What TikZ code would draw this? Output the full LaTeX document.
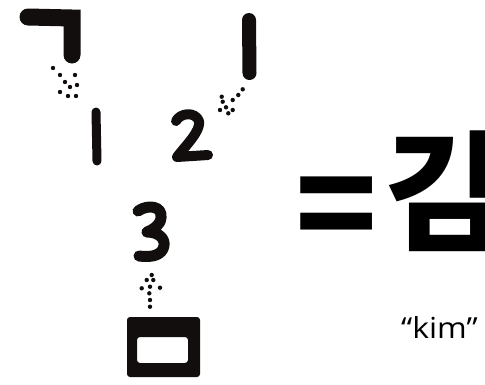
\documentclass[tikz,border=0pt]{standalone}
\usepackage{fontspec}
\newfontfamily\krfont{Noto Sans CJK KR}
\newfontfamily\latfont{Open Sans}
\definecolor{ink}{RGB}{18,14,14}
\tikzset{
  brush/.style={draw=ink, line width=#1, line cap=round, line join=round},
  inkdot/.style={fill=ink},
  bigtext/.style={anchor=base west, inner sep=0, font=\krfont\bfseries\fontsize{#1}{#1}\selectfont},
}
\begin{document}
\begin{tikzpicture}[x=1pt,y=-1pt]
\useasboundingbox (0,0) rectangle (485,384);
\clip (0,0) rectangle (485,384);
% stroke 1: giyeok
\draw[brush=17, line join=miter] (28,17) -- (72,18) -- (72,55);
\foreach \p in {(53,68),(60,75),(75,75),(65,82),(70,87),(77,85),(60,92),(68,96),(76,96)}
  \fill[inkdot] \p circle (2.2);
\draw[brush=9] (96,112) -- (97,161);
% stroke 2: vertical
\draw[brush=14] (249,20) -- (249.5,73);
\foreach \p in {(242.7,89.3),(238.3,95),(232.7,100),(221.7,96.7),(222.7,101.7),(220,110),(226,107.3),(228.3,113.3),(232.7,110)}
  \fill[inkdot] \p circle (2.2);
\draw[brush=10] (176,121) .. controls (180,113) and (195,111) .. (199,121)
  .. controls (201,131) and (186,145) .. (177,157) -- (208,155);
% stroke 3: mieum
\foreach \p in {(151.7,275),(146.7,280),(153.3,280),(141.7,288.3),(150,286.7),(160,287.7),(149.3,293.3),(150,300),(150,306.7)}
  \fill[inkdot] \p circle (2.2);
\draw[brush=11] (138,211) .. controls (148,204) and (163,206) .. (161,218)
  .. controls (160,226) and (152,230) .. (147,232)
  .. controls (160,232) and (167,240) .. (163,249)
  .. controls (159,257) and (148,257) .. (139,256);
\fill[ink, even odd rule, rounded corners=3] (127,317) rectangle (200,377) (137,337) rectangle (188,363);
% result
\node[bigtext=135] (equals) at (295,254) {=};
\node[bigtext=130] (hangul) at (384,240) {김};
\node[anchor=base west, inner sep=0, font=\latfont\fontsize{29}{29}\selectfont, xscale=1.1] (roman) at (401,338) {“kim”};
\end{tikzpicture}
\end{document}
